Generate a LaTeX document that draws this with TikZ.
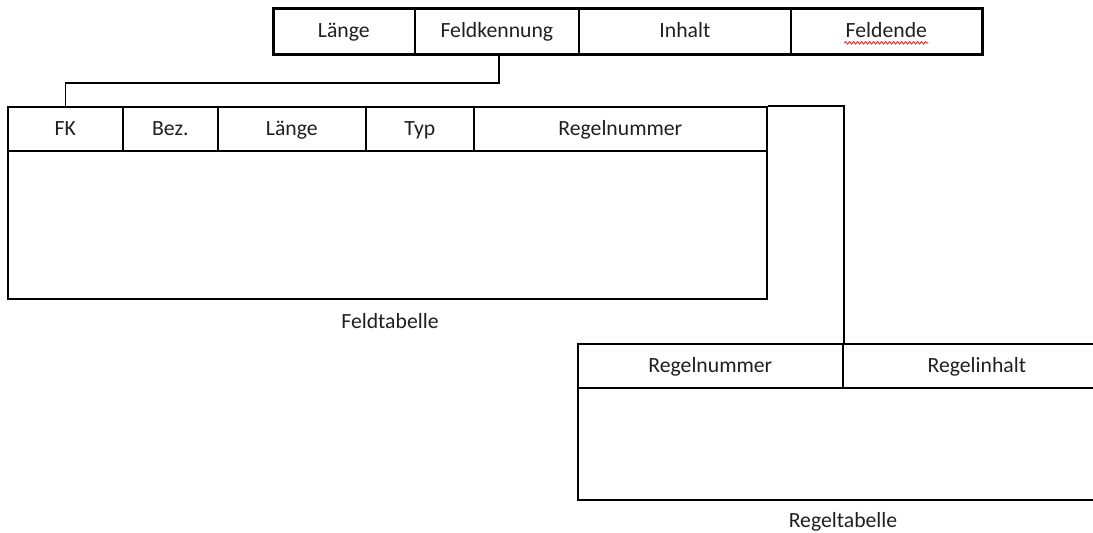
\documentclass[tikz,border=0pt]{standalone}
\usepackage{fontspec}
\setmainfont{Carlito}
\usetikzlibrary{decorations.pathmorphing}
\begin{document}
\begin{tikzpicture}[x=0.5pt,y=-0.5pt,
  font=\fontsize{10.85}{13}\selectfont,
  cellbox/.style={draw=black, line width=0.85pt, inner sep=0pt, anchor=north west,
    text=black!88, text height=0.644em, text depth=0pt},
  thickbox/.style={draw=black, line width=1.5pt, inner sep=0pt, anchor=north west},
  link/.style={draw=black, line width=0.85pt},
  caption/.style={text=black!88, inner sep=0pt, text height=0.644em, text depth=0pt},
  wave/.style={draw=red!85!white, line width=0.5pt, decorate,
    decoration={snake, amplitude=0.55pt, segment length=2pt}}]
\useasboundingbox (0,0) rectangle (1093,533);
\clip (0,0) rectangle (1093,533);
% top record
\node[cellbox, minimum width=71pt, minimum height=23pt] (rl) at (272,7) {Länge};
\node[cellbox, minimum width=82pt, minimum height=23pt] (rk) at (414,7) {Feldkennung};
\node[cellbox, minimum width=106pt, minimum height=23pt] (ri) at (578,7) {Inhalt};
\node[cellbox, minimum width=95.5pt, minimum height=23pt] (re) at (790,7) {Feldende};
\node[thickbox, minimum width=354.5pt, minimum height=23pt] (rec) at (272,7) {};
\path (re.center) ++(-42,12) coordinate (w1) ++(84,0) coordinate (w2);
\draw[wave] (w1) -- (w2);
% Feldtabelle
\node[cellbox, minimum width=57.5pt, minimum height=22pt] (fk) at (7,106) {FK};
\node[cellbox, minimum width=47.5pt, minimum height=22pt] (fb) at (122,106) {Bez.};
\node[cellbox, minimum width=74pt, minimum height=22pt] (fl) at (217,106) {Länge};
\node[cellbox, minimum width=54pt, minimum height=22pt] (ft) at (365,106) {Typ};
\node[cellbox, minimum width=146.5pt, minimum height=22pt] (fr) at (473,106) {Regelnummer};
\node[cellbox, minimum width=379.5pt, minimum height=74pt] (fbody) at (7,150) {};
\node[caption] (flabel) at (390,322) {Feldtabelle};
% Regeltabelle
\node[cellbox, minimum width=132.5pt, minimum height=22pt] (rn) at (577,343) {Regelnummer};
\node[cellbox, minimum width=134pt, minimum height=22pt] (rin) at (842,343) {Regelinhalt};
\node[cellbox, minimum width=266.5pt, minimum height=56pt] (rbody) at (577,387) {};
\node[caption] (rlabel) at (843,521) {Regeltabelle};
% connectors
\draw[link] ([xshift=1pt]rk.south) -- ++(0,28) -| (fk.north);
\draw[link] (fr.north east) -| (rn.north east);
\end{tikzpicture}
\end{document}
